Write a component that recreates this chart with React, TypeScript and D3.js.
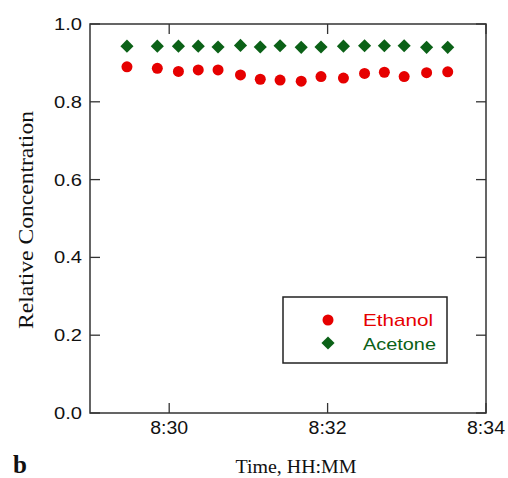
import React from "react";
import * as d3 from "d3";

const times = [
  "8:29:28", "8:29:51", "8:30:07", "8:30:22", "8:30:37", "8:30:54", "8:31:09", "8:31:24",
  "8:31:40", "8:31:55", "8:32:12", "8:32:28", "8:32:43", "8:32:58", "8:33:15", "8:33:31",
];
const ethanol = [0.89, 0.886, 0.878, 0.882, 0.882, 0.869, 0.858, 0.856, 0.853, 0.865, 0.861, 0.873, 0.876, 0.865, 0.875, 0.877];
const acetone = [0.943, 0.943, 0.943, 0.943, 0.941, 0.945, 0.941, 0.944, 0.94, 0.941, 0.943, 0.944, 0.944, 0.944, 0.94, 0.94];
const xTicks = ["8:30", "8:32", "8:34"];
const yTicks = [0, 0.2, 0.4, 0.6, 0.8, 1.0];
const xDomain = ["8:29", "8:34"];

const toSec = (s: string) => {
  const p = s.split(":").map(Number);
  return p[0] * 3600 + p[1] * 60 + (p[2] || 0);
};

export default function App() {
  const W = 508, H = 478;
  const L = 90, R = 486, T = 24, B = 413;
  const x = d3.scaleLinear().domain(xDomain.map(toSec)).range([L, R]);
  const y = d3.scaleLinear().domain([0, 1]).range([B, T]);
  const diamond = d3.symbol().type(d3.symbolDiamond2).size(110)();
  const tick = 10;
  const sans = "Liberation Sans, Arial, sans-serif";
  const serif = "Liberation Serif, Times New Roman, serif";
  const red = "#e60000";
  const green = "#0b6117";
  return (
    <svg width={W} height={H} style={{ position: "absolute", left: 0, top: 0, background: "#fff" }}>
      <rect x={L} y={T} width={R - L} height={B - T} fill="none" stroke="#333" strokeWidth={1.5} />
      {yTicks.map((v) => (
        <g key={"y" + v}>
          <line x1={L} x2={L + tick} y1={y(v)} y2={y(v)} stroke="#333" strokeWidth={1.3} />
          <line x1={R} x2={R - tick} y1={y(v)} y2={y(v)} stroke="#333" strokeWidth={1.3} />
          <text x={L - 8} y={y(v) + 6} textAnchor="end" fontFamily={sans} fontSize={17} fill="#111"
            textLength={28} lengthAdjust="spacingAndGlyphs">
            {v.toFixed(1)}
          </text>
        </g>
      ))}
      {xTicks.map((t) => (
        <g key={"x" + t}>
          <line x1={x(toSec(t))} x2={x(toSec(t))} y1={B} y2={B - tick} stroke="#333" strokeWidth={1.3} />
          <line x1={x(toSec(t))} x2={x(toSec(t))} y1={T} y2={T + tick} stroke="#333" strokeWidth={1.3} />
          <text x={x(toSec(t))} y={B + 21} textAnchor="middle" fontFamily={sans} fontSize={18} fill="#111"
            textLength={38} lengthAdjust="spacingAndGlyphs">
            {t}
          </text>
        </g>
      ))}
      {times.map((t, i) => (
        <path key={"a" + i} d={diamond!} transform={`translate(${x(toSec(t))},${y(acetone[i])})`} fill={green} />
      ))}
      {times.map((t, i) => (
        <circle key={"e" + i} cx={x(toSec(t))} cy={y(ethanol[i])} r={5.5} fill={red} />
      ))}
      <rect x={283} y={297} width={164} height={66} fill="#fff" stroke="#222" strokeWidth={1.5} />
      <circle cx={328} cy={320} r={5.5} fill={red} />
      <path d={diamond!} transform="translate(328,343)" fill={green} />
      <text x={363} y={326} fontFamily={sans} fontSize={17} fill={red} textLength={70} lengthAdjust="spacingAndGlyphs">Ethanol</text>
      <text x={363} y={350} fontFamily={sans} fontSize={17} fill={green} textLength={73} lengthAdjust="spacingAndGlyphs">Acetone</text>
      <text transform={`translate(33,220) rotate(-90)`} textAnchor="middle" fontFamily={serif} fontSize={22} fill="#111"
        textLength={218} lengthAdjust="spacingAndGlyphs">
        Relative Concentration
      </text>
      <text x={296} y={473} textAnchor="middle" fontFamily={serif} fontSize={19.5} fill="#111"
        textLength={121} lengthAdjust="spacingAndGlyphs">Time, HH:MM</text>
      <text x={13} y={473} fontFamily={serif} fontSize={25} fontWeight="bold" fill="#111">b</text>
    </svg>
  );
}
